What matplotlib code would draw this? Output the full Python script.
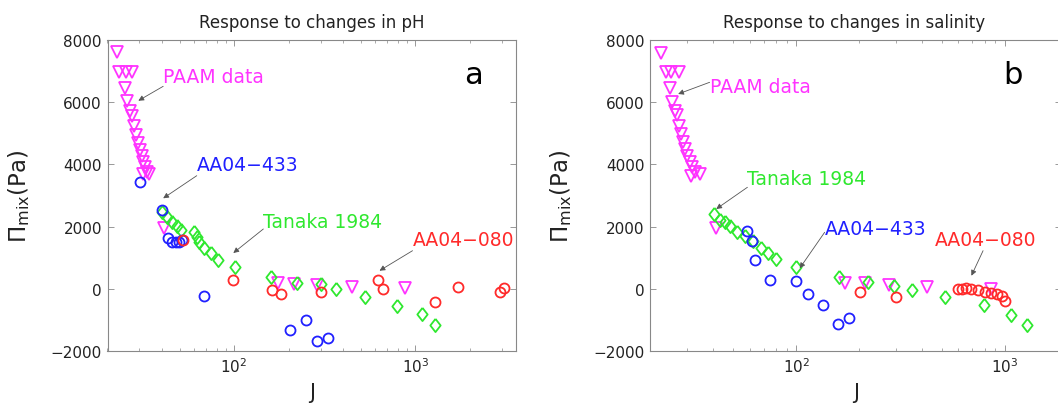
import matplotlib.pyplot as plt
from matplotlib.ticker import NullFormatter

# ---- Response to changes in pH (panel a) ----
paam_ph_j = [22.5, 23.2, 25.2, 27.4, 25.0, 25.7, 26.5, 27.2, 28.0, 28.8, 29.6, 30.3,
             31.0, 31.6, 32.4, 33.2, 31.5, 33.8, 41.2, 175, 215, 286, 445, 880]
paam_ph_p = [7600, 6970, 6970, 6970, 6470, 6040, 5730, 5560, 5240, 4930, 4680, 4460,
             4270, 4080, 3910, 3750, 3700, 3690, 1945, 180, 150, 120, 60, 30]

aa433_ph_j = [30.2, 40.2, 43.3, 45.5, 47.5, 49.5, 51.4, 68.2, 204, 250, 286, 332]
aa433_ph_p = [3424, 2544, 1620, 1520, 1500, 1510, 1560, -222, -1315, -1003, -1669, -1592]

tanaka_ph_j = [40.2, 42.5, 45.3, 48.2, 50.9, 60.4, 62.2, 64.3, 68.5, 74.6, 81.3, 101,
               160, 222, 301, 366, 525, 798, 1088, 1289]
tanaka_ph_p = [2480, 2300, 2140, 2010, 1900, 1840, 1656, 1495, 1302, 1151, 936, 691,
               370, 187, 154, -6, -273, -543, -810, -1164]

aa080_ph_j = [52.5, 99, 161, 181, 302, 622, 663, 1289, 1733, 2925, 3075]
aa080_ph_p = [1579, 283, -29, -167, -100, 293, -6, -415, 48, -113, 16]

# ---- Response to changes in salinity (panel b) ----
paam_sal_j = [22.6, 23.7, 25.1, 27.4, 24.8, 25.4, 26.2, 26.9, 27.5, 28.0, 28.7, 29.4,
              30.1, 30.9, 31.7, 32.6, 31.5, 34.5, 41.4, 172, 215, 280, 425, 860]
paam_sal_p = [7580, 6960, 6960, 6960, 6450, 6020, 5730, 5590, 5240, 4980, 4710, 4500,
              4280, 4070, 3910, 3750, 3640, 3690, 1945, 200, 200, 120, 50, 0]

aa433_sal_j = [58.3, 61.7, 63.3, 74.7, 100.3, 114, 134.6, 158.9, 179.5]
aa433_sal_p = [1868, 1547, 936, 283, 241, -167, -521, -1132, -939]

tanaka_sal_j = [40.3, 43.4, 45.8, 48.1, 52.3, 56.7, 62.1, 68.1, 73.3, 80.3, 100.3,
                160, 220, 295, 358, 518, 796, 1069, 1275]
tanaka_sal_p = [2405, 2212, 2138, 2010, 1836, 1708, 1547, 1302, 1151, 958, 691,
                370, 209, 90, -29, -273, -521, -842, -1164]

aa080_sal_j = [203, 300, 600, 625, 650, 690, 745, 800, 860, 915, 965, 1000]
aa080_sal_p = [-93, -250, 0, -20, 10, -10, -40, -100, -150, -170, -220, -380]

MAGENTA = '#ff33ff'
BLUE = '#2020ff'
GREEN = '#2fe82f'
RED = '#ff2a2a'

# MATLAB-style diamond, a bit taller than wide
DIAMOND = [(0, 1), (0.78, 0), (0, -1), (-0.78, 0), (0, 1)]

fig = plt.figure(figsize=(10.58, 4.06), dpi=100)
ax_ph = fig.add_axes([107.5 / 1058, 54 / 406, 408.5 / 1058, 311 / 406])
# right panel runs slightly past the figure edge, so its right border is cut off
ax_sal = fig.add_axes([650.3 / 1058, 54 / 406, 410.7 / 1058, 311 / 406])


def draw_series(ax, pj, pp, bj, bp, gj, gp, rj, rp):
    ax.plot(pj, pp, linestyle='none', marker='v', ms=8.5, mfc='none', mec=MAGENTA, mew=1.3)
    ax.plot(gj, gp, linestyle='none', marker=DIAMOND, ms=9.5, mfc='none', mec=GREEN, mew=1.3)
    ax.plot(bj, bp, linestyle='none', marker='o', ms=7.2, mfc='none', mec=BLUE, mew=1.3)
    ax.plot(rj, rp, linestyle='none', marker='o', ms=7.2, mfc='none', mec=RED, mew=1.3)


def style_axes(ax, xmax, title, letter):
    ax.set_xscale('log')
    ax.set_xlim(20, xmax)
    ax.set_ylim(-2000, 8000)
    ax.set_yticks([-2000, 0, 2000, 4000, 6000, 8000])
    ax.xaxis.set_minor_formatter(NullFormatter())
    ax.tick_params(which='both', direction='in', top=True, right=True,
                   labelsize=11, labelcolor='#222222', color='#888888', pad=4)
    ax.tick_params(which='major', length=4.5, width=0.6)
    ax.tick_params(which='minor', length=2.5, width=0.5)
    for s in ax.spines.values():
        s.set_color('#888888')
        s.set_linewidth(0.8)
    ax.set_title(title, fontsize=12, color='#222222', pad=9)
    ax.set_xlabel('J', fontsize=15, color='#222222')
    ax.xaxis.set_label_coords(0.5, -0.1)
    ax.xaxis.label.set_va('top')
    ax.set_ylabel(r'$\Pi_{\mathrm{mix}}$(Pa)', fontsize=16.5, color='#222222')
    ax.yaxis.set_label_coords(-0.185, 0.5)
    ax.text(0.895, 0.89, letter, transform=ax.transAxes, fontsize=22,
            ha='center', va='center', color='black')


def label(ax, text, color, txy, tail, head):
    ax.text(txy[0], txy[1], text, color=color, fontsize=13.5, ha='left', va='center')
    ax.annotate('', xy=head, xytext=tail,
                arrowprops=dict(arrowstyle='-|>', color='#555555', lw=0.6,
                                mutation_scale=8, shrinkA=0, shrinkB=0))


draw_series(ax_ph, paam_ph_j, paam_ph_p, aa433_ph_j, aa433_ph_p,
            tanaka_ph_j, tanaka_ph_p, aa080_ph_j, aa080_ph_p)
style_axes(ax_ph, 3600, 'Response to changes in pH', 'a')
label(ax_ph, 'PAAM data', MAGENTA, (40.6, 6842), (40.6, 6511), (29.6, 6048))
label(ax_ph, 'AA04\u2212433', BLUE, (62.2, 3990), (62.2, 3637), (40.6, 2910))
label(ax_ph, 'Tanaka 1984', GREEN, (145, 2158), (145, 1923), (99, 1151))
label(ax_ph, 'AA04\u2212080', RED, (966, 1579), (966, 1225), (635, 582))

draw_series(ax_sal, paam_sal_j, paam_sal_p, aa433_sal_j, aa433_sal_p,
            tanaka_sal_j, tanaka_sal_p, aa080_sal_j, aa080_sal_p)
style_axes(ax_sal, 1860, 'Response to changes in salinity', 'b')
ax_sal.title.set_x(0.497)
ax_sal.texts[0].set_x(0.882)
label(ax_sal, 'PAAM data', MAGENTA, (38.5, 6511), (38.5, 6640), (27.2, 6264))
label(ax_sal, 'Tanaka 1984', GREEN, (58.4, 3531), (58.4, 3264), (41.4, 2566))
label(ax_sal, 'AA04\u2212433', BLUE, (137, 1945), (137, 1817), (104, 659))
label(ax_sal, 'AA04\u2212080', RED, (462, 1579), (787, 1225), (692, 421))

fig.savefig('out.png', dpi=100)
